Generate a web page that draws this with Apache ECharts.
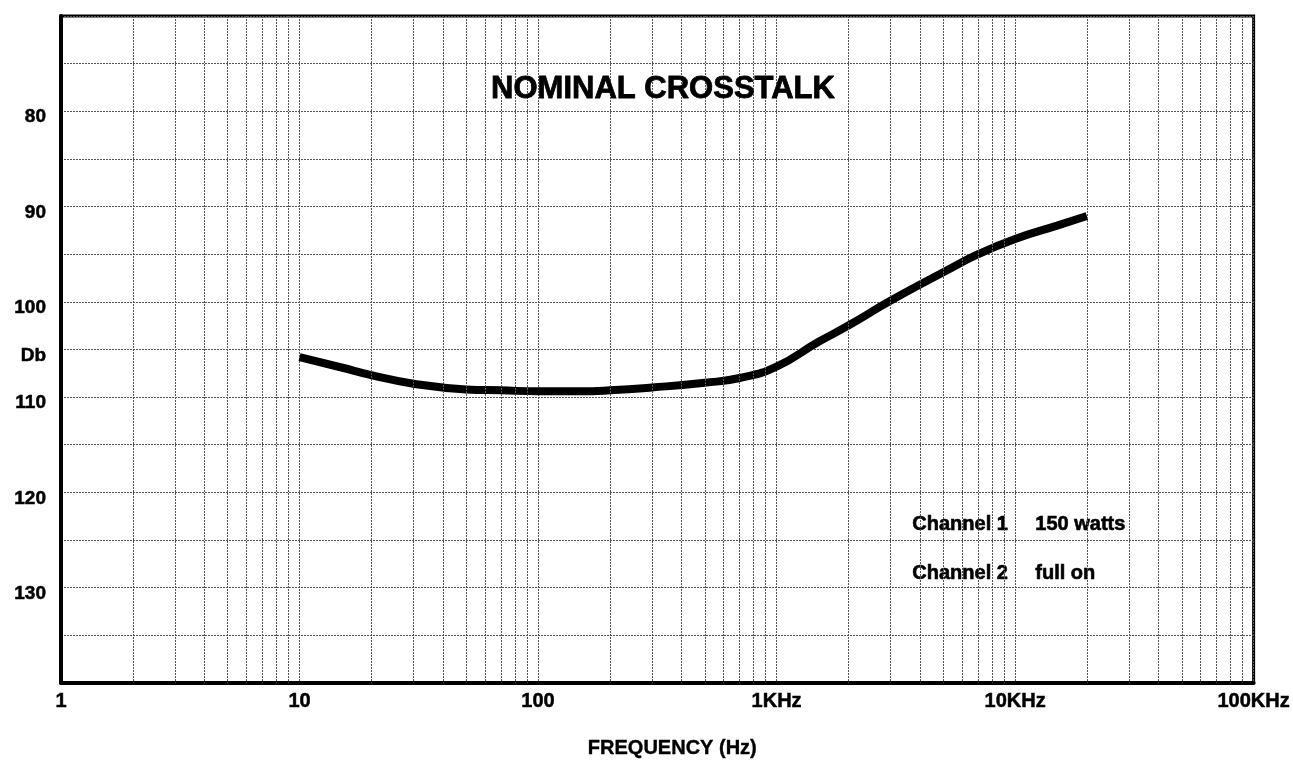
<!DOCTYPE html>
<html>
<head>
<meta charset="utf-8">
<script src="https://cdn.jsdelivr.net/npm/echarts@6/dist/echarts.min.js"></script>
<style>
  html, body { margin: 0; padding: 0; background: #fff; }
  #chart { width: 1293px; height: 764px; }
</style>
</head>
<body>
<div id="chart"></div>
<script>
// curve (Hz, dB)
const freqs = [10, 15, 20, 30, 50, 70, 100, 150, 200, 300, 500, 700, 1000, 1500, 2000, 3000, 5000, 7000, 10000, 15000, 20000]
const crosstalk = [105.8, 106.9, 107.7, 108.6, 109.2, 109.3, 109.4, 109.4, 109.3, 109.0, 108.5, 108.0, 106.8, 104.2, 102.5, 99.9, 96.9, 95.0, 93.4, 92.0, 91.0]

// axis labels
const xTickValues = [1, 10, 100, 1000, 10000, 100000]
const xTickLabels = ['1', '10', '100', '1KHz', '10KHz', '100KHz']
const yTickValues = [80, 90, 100, 105, 110, 120, 130]
const yTickLabels = ['80', '90', '100', 'Db', '110', '120', '130']

// minor vertical grid: 2..9 in every decade
const decades = [1, 10, 100, 1000, 10000]
const minorSteps = [2, 3, 4, 5, 6, 7, 8, 9]
const minorGrid = []
decades.forEach(d => minorSteps.forEach(m => minorGrid.push(d * m)))

const font = '"Liberation Sans", Arial, sans-serif'
const gridColor = '#555'
const gridLine = { color: gridColor, width: 1, type: [2, 1] }

// bold label text, thickened a little with a stroke
const labelText = (text, left, top) => ({
  type: 'text',
  left: left,
  top: top,
  style: {
    text: text,
    font: 'bold 20px ' + font,
    fill: '#000',
    stroke: '#000',
    lineWidth: 0.6,
  },
})

const chart = echarts.init(document.getElementById('chart'))

const option = {
  animation: false,
  backgroundColor: '#fff',
  title: {
    text: 'NOMINAL CROSSTALK',
    left: 658,
    top: 69,
    textAlign: 'center',
    textStyle: {
      fontFamily: font,
      fontWeight: 'bold',
      fontSize: 31,
      color: '#000',
      textBorderColor: '#000',
      textBorderWidth: 0.8,
    },
  },
  grid: {
    left: 61,
    right: 38,
    top: 16,
    bottom: 76,
    show: true,
    borderColor: '#000',
    borderWidth: 3,
  },
  xAxis: {
    type: 'log',
    logBase: 10,
    min: 1,
    max: 100000,
    name: 'FREQUENCY (Hz)',
    nameLocation: 'middle',
    nameGap: 56,
    nameTextStyle: {
      fontFamily: font,
      fontWeight: 'bold',
      fontSize: 20,
      color: '#000',
      padding: [0, 0, 0, 30],
      textBorderColor: '#000',
      textBorderWidth: 0.4,
    },
    axisLine: { onZero: false, lineStyle: { color: '#000', width: 4 } },
    axisTick: { show: false },
    axisLabel: {
      margin: 9,
      fontFamily: font,
      fontWeight: 'bold',
      fontSize: 20,
      color: '#000',
      textBorderColor: '#000',
      textBorderWidth: 0.5,
      formatter: v => {
        const i = xTickValues.findIndex(t => Math.abs(t - v) < t * 1e-6)
        return i >= 0 ? xTickLabels[i] : ''
      },
    },
    splitLine: { show: true, lineStyle: gridLine },
  },
  yAxis: {
    type: 'value',
    inverse: true,
    min: 70,
    max: 140,
    interval: 5,
    axisLine: { lineStyle: { color: '#000', width: 4 } },
    axisTick: { show: false },
    axisLabel: {
      margin: 15,
      fontFamily: font,
      fontWeight: 'bold',
      fontSize: 19,
      color: '#000',
      textBorderColor: '#000',
      textBorderWidth: 0.5,
      verticalAlign: 'top',
      lineHeight: 12,
      formatter: v => {
        const i = yTickValues.indexOf(v)
        return i >= 0 ? yTickLabels[i] : ''
      },
    },
    splitLine: { show: true, lineStyle: gridLine },
  },
  series: [
    {
      type: 'line',
      data: freqs.map((f, i) => [f, crosstalk[i]]),
      smooth: 0.5,
      symbol: 'none',
      lineStyle: { color: '#000', width: 8, cap: 'butt' },
      markLine: {
        silent: true,
        symbol: ['none', 'none'],
        label: { show: false },
        lineStyle: gridLine,
        data: minorGrid.map(f => ({ xAxis: f })),
      },
    },
  ],
  graphic: [
    labelText('Channel 1', 912, 514),
    labelText('150 watts', 1035, 514),
    labelText('Channel 2', 912, 563),
    labelText('full on', 1035, 563),
  ],
}

chart.setOption(option)
</script>
</body>
</html>
